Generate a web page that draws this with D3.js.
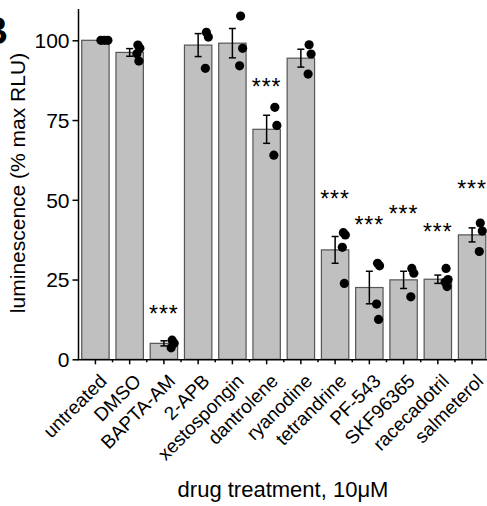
<!DOCTYPE html>
<html>
<head>
<meta charset="utf-8">
<script src="https://cdn.jsdelivr.net/npm/d3@7"></script>
<style>
  html, body { margin: 0; padding: 0; background: #fff; overflow: hidden; }
  text { font-family: "Liberation Sans", Arial, sans-serif; fill: #000; }
</style>
</head>
<body>
<svg id="chart" width="487" height="506"></svg>
<script>
// ---- data ----
const categories = ["untreated", "DMSO", "BAPTA-AM", "2-APB", "xestospongin", "dantrolene",
  "ryanodine", "tetrandrine", "PF-543", "SKF96365", "racecadotril", "salmeterol"];
const means = [100, 96.2, 5.0, 98.5, 99.1, 72.1, 94.4, 34.3, 22.5, 24.9, 25.1, 39.0];
const sems  = [0, 1.2, 0.8, 3.6, 4.6, 4.4, 2.8, 4.2, 5.1, 2.7, 1.3, 2.2];
const replicates = [
  [100, 100, 100],
  [98.5, 97.5, 95.8, 93.5],
  [6.0, 5.0, 3.6],
  [102.5, 101.0, 91.2],
  [107.6, 97.5, 92.0],
  [79.0, 73.3, 64.0],
  [98.6, 95.7, 89.4],
  [39.7, 39.0, 35.1, 23.8],
  [30.1, 29.3, 17.3, 12.5],
  [28.5, 27.0, 19.6],
  [28.5, 25.0, 24.2, 22.8],
  [42.7, 40.2, 33.8]
];
// significance marks: category -> height (in y units) of the "***" label
const sigCategories = ["BAPTA-AM", "dantrolene", "tetrandrine", "PF-543", "SKF96365", "racecadotril", "salmeterol"];
const sigLevels = [16.0, 87.2, 52.0, 43.9, 47.3, 41.6, 55.0];
const yTicks = [0, 25, 50, 75, 100];

// ---- layout ----
const svg = d3.select("#chart");
const x = d3.scaleBand().domain(categories).range([78.3, 489.2]).paddingInner(0.2).paddingOuter(0.1);
const y = d3.scaleLinear().domain([0, 110]).range([359.3, 8.4]);
const bw = x.bandwidth();
const cx = c => x(c) + bw / 2;

// panel label (cropped at the left edge, as in the source figure)
svg.append("text").attr("x", 8).attr("y", 44).attr("text-anchor", "end")
  .style("font-size", "38px").style("font-weight", "bold").text("B");

// bars
svg.append("g").selectAll("rect").data(categories).join("rect")
  .attr("x", d => x(d)).attr("width", bw)
  .attr("y", (d, i) => y(means[i])).attr("height", (d, i) => y(0) - y(means[i]))
  .attr("fill", "#c0c0c0").attr("stroke", "#555").attr("stroke-width", 1.2);

// error bars
const eg = svg.append("g").attr("stroke", "#000").attr("stroke-width", 1.5);
categories.forEach((c, i) => {
  if (sems[i] <= 0) return;
  const xc = cx(c), t = y(means[i] + sems[i]), b = y(means[i] - sems[i]);
  eg.append("line").attr("x1", xc).attr("x2", xc).attr("y1", t).attr("y2", b);
  eg.append("line").attr("x1", xc - 3.5).attr("x2", xc + 3.5).attr("y1", t).attr("y2", t);
  eg.append("line").attr("x1", xc - 3.5).attr("x2", xc + 3.5).attr("y1", b).attr("y2", b);
});

// replicate dots
const jitter = [0, 2, -1, 1];
const dots = [];
categories.forEach((c, i) => {
  const vals = replicates[i];
  const allSame = vals.every(v => v === vals[0]);
  vals.forEach((v, k) => {
    const off = allSame ? bw * 0.2 + k * 3.5 : bw * 0.3 + jitter[k % 4];
    dots.push({ x: cx(c) + off, v });
  });
});
svg.append("g").selectAll("circle").data(dots).join("circle")
  .attr("cx", d => d.x).attr("cy", d => y(d.v)).attr("r", 4.6).attr("fill", "#000");

// significance stars
svg.append("g").selectAll("text").data(sigCategories).join("text")
  .attr("x", d => cx(d)).attr("y", (d, i) => y(sigLevels[i]) + 13.5)
  .attr("text-anchor", "middle").style("font-size", "23px").style("letter-spacing", "1px")
  .text("***");

// y axis
const yAxis = svg.append("g").attr("transform", "translate(78,0)")
  .call(d3.axisLeft(y).tickValues(yTicks).tickSize(5.5).tickPadding(3).tickSizeOuter(0));
yAxis.select(".domain").attr("stroke-width", 1.5);
yAxis.selectAll(".tick line").attr("stroke-width", 1.5);
yAxis.selectAll("text").style("font-size", "21px").style("font-family", "Liberation Sans, Arial, sans-serif").attr("dy", "0.35em");

// x axis
const xAxis = svg.append("g").attr("transform", `translate(0,${y(0)})`)
  .call(d3.axisBottom(x).tickSize(5).tickSizeOuter(0).tickFormat(""));
xAxis.select(".domain").attr("d", `M77.3,0.5H487`).attr("stroke-width", 1.5);
xAxis.selectAll(".tick line").attr("stroke-width", 1.5);
// minor ticks between bars
const step = x.step();
const minor = categories.slice(0, -1).map(c => x(c) + bw + (step - bw) / 2);
xAxis.append("g").selectAll("line").data(minor).join("line")
  .attr("x1", d => d).attr("x2", d => d).attr("y1", 0).attr("y2", 3)
  .attr("stroke", "#000").attr("stroke-width", 1.5);

// x tick labels, rotated
svg.append("g").selectAll("text").data(categories).join("text")
  .attr("text-anchor", "end")
  .attr("transform", d => `translate(${cx(d) + 12.5},${y(0) + 23}) rotate(-45)`)
  .style("font-size", "19px")
  .text(d => d);

// axis titles
svg.append("text").attr("transform", "translate(25,183) rotate(-90)")
  .attr("text-anchor", "middle").style("font-size", "21px")
  .text("luminescence (% max RLU)");
svg.append("text").attr("x", 283).attr("y", 497).attr("text-anchor", "middle")
  .style("font-size", "22px").text("drug treatment, 10\u03bcM");
</script>
</body>
</html>
